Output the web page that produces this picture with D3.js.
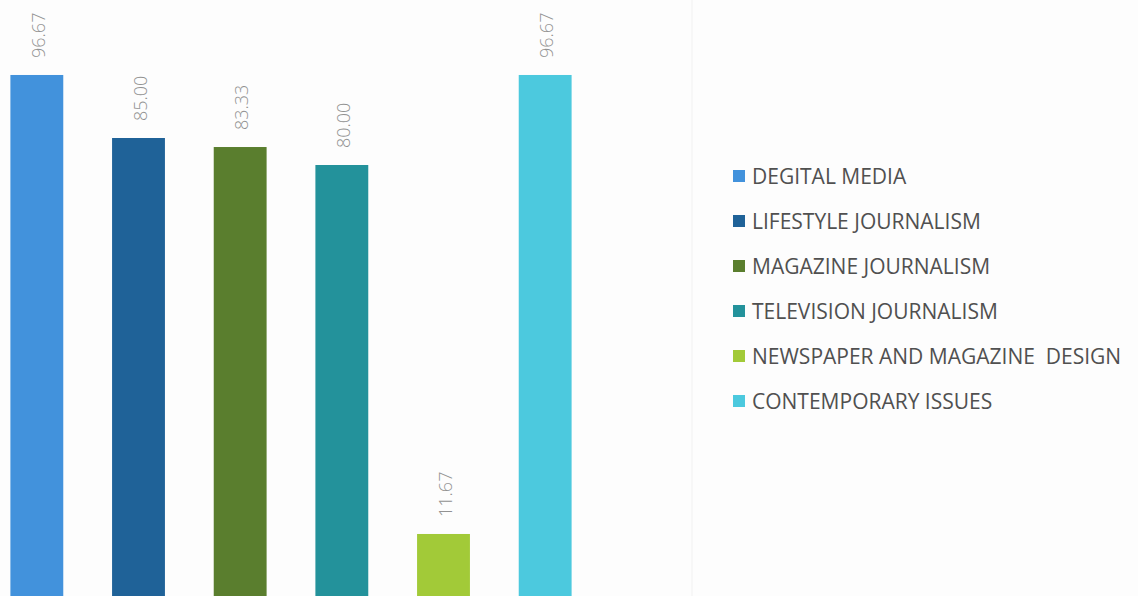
<!DOCTYPE html>
<html>
<head>
<meta charset="utf-8">
<script src="https://cdn.jsdelivr.net/npm/d3@7"></script>
<style>
  body { margin: 0; background: #fdfdfd; }
  svg { display: block; }
</style>
</head>
<body>
<div class="chart"></div>
<script>
const subjects = ["DEGITAL MEDIA", "LIFESTYLE JOURNALISM", "MAGAZINE JOURNALISM",
    "TELEVISION JOURNALISM", "NEWSPAPER AND MAGAZINE  DESIGN", "CONTEMPORARY ISSUES"];
const scores = [96.67, 85.00, 83.33, 80.00, 11.67, 96.67];
const colors = ["#4292dc", "#1f6298", "#5a7e2e", "#23929b", "#a2ca38", "#4cc9de"];

function drawBarChart() {
    const width = 1138, height = 596;
    const top = 57, baseline = 597;

    const svg = d3.select(".chart").append("svg")
        .attr("width", width)
        .attr("height", height)
        .style("background", "#fdfdfd");

    const x = d3.scaleBand()
        .domain(subjects)
        .range([-14, 596])
        .paddingInner(0.48)
        .paddingOuter(0.24);

    const y = d3.scaleLinear()
        .domain([0, 100])
        .range([baseline, top]);

    const color = d3.scaleOrdinal()
        .domain(subjects)
        .range(colors);

    const data = subjects.map((s, i) => ({ key: s, value: scores[i] }));

    // faint divider between plot and legend
    svg.append("line")
        .attr("x1", 692).attr("x2", 692)
        .attr("y1", 0).attr("y2", height)
        .attr("stroke", "#f4f4f4")
        .attr("stroke-width", 1.5);

    svg.selectAll(".bar")
        .data(data)
        .enter()
        .append("rect")
            .attr("class", "bar")
            .attr("x", d => x(d.key))
            .attr("width", x.bandwidth())
            .attr("y", d => y(d.value))
            .attr("height", d => y(0) - y(d.value))
            .attr("fill", d => color(d.key));

    svg.selectAll(".val")
        .data(data)
        .enter()
        .append("text")
            .attr("class", "val")
            .attr("transform", d => `translate(${x(d.key) + x.bandwidth() / 2 + 1}, ${y(d.value) - 17}) rotate(-90)`)
            .attr("dominant-baseline", "central")
            .attr("font-family", "Open Sans, sans-serif")
            .attr("font-weight", 300)
            .attr("font-size", 18)
            .attr("fill", "#929292")
            .text(d => d.value.toFixed(2));

    const legend = svg.append("g")
        .attr("transform", "translate(733, 176)");

    const item = legend.selectAll(".item")
        .data(subjects)
        .enter()
        .append("g")
            .attr("class", "item")
            .attr("transform", (d, i) => `translate(0, ${i * 45})`);

    item.append("rect")
        .attr("x", 0).attr("y", -6)
        .attr("width", 12).attr("height", 12)
        .attr("fill", d => color(d));

    item.append("text")
        .attr("x", 19)
        .attr("dominant-baseline", "central")
        .attr("font-family", "Open Sans, sans-serif")
        .attr("font-size", 21)
        .attr("fill", "#505050")
        .style("white-space", "pre")
        .text(d => d);
}

drawBarChart();
</script>
</body>
</html>
